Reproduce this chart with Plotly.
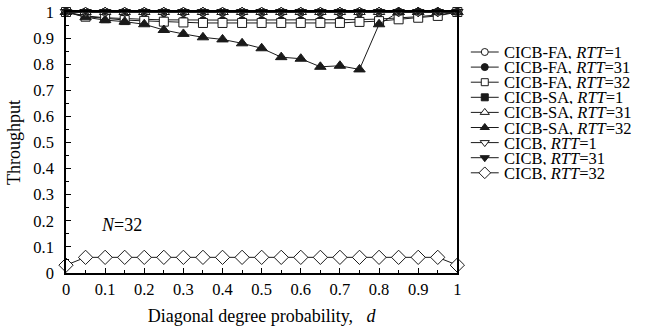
import plotly.graph_objects as go

# Diagonal degree probability d
d = [0.0, 0.05, 0.1, 0.15, 0.2, 0.25, 0.3, 0.35, 0.4, 0.45, 0.5,
     0.55, 0.6, 0.65, 0.7, 0.75, 0.8, 0.85, 0.9, 0.95, 1.0]

fa_rtt1 = [1.0, 1.0, 1.0, 1.0, 1.0, 1.0, 1.0, 1.0, 1.0, 1.0, 1.0,
           1.0, 1.0, 1.0, 1.0, 1.0, 1.0, 1.0, 1.0, 1.0, 1.0]
fa_rtt31 = [1.0, 0.985, 0.978, 0.974, 0.972, 0.970, 0.969, 0.969, 0.969, 0.969, 0.969,
            0.969, 0.969, 0.969, 0.970, 0.971, 0.973, 0.977, 0.982, 0.989, 1.0]
fa_rtt32 = [1.0, 0.982, 0.976, 0.969, 0.966, 0.963, 0.960, 0.958, 0.958, 0.958, 0.958,
            0.958, 0.958, 0.958, 0.958, 0.962, 0.965, 0.972, 0.978, 0.985, 1.0]
sa_rtt1 = [1.0, 1.0, 1.0, 1.0, 1.0, 1.0, 1.0, 1.0, 1.0, 1.0, 1.0,
           1.0, 1.0, 1.0, 1.0, 1.0, 1.0, 1.0, 1.0, 1.0, 1.0]
sa_rtt31 = [1.0, 1.0, 1.0, 1.0, 1.0, 1.0, 1.0, 1.0, 1.0, 1.0, 1.0,
            1.0, 1.0, 1.0, 1.0, 1.0, 1.0, 1.0, 1.0, 1.0, 1.0]
sa_rtt32 = [1.0, 0.980, 0.969, 0.963, 0.953, 0.931, 0.916, 0.903, 0.895, 0.880, 0.861,
            0.827, 0.821, 0.790, 0.794, 0.780, 0.953, 1.0, 1.0, 1.0, 1.0]
cicb_rtt1 = [1.0, 1.0, 1.0, 1.0, 1.0, 1.0, 1.0, 1.0, 1.0, 1.0, 1.0,
             1.0, 1.0, 1.0, 1.0, 1.0, 1.0, 1.0, 1.0, 1.0, 1.0]
cicb_rtt31 = [1.0, 1.0, 1.0, 1.0, 1.0, 1.0, 1.0, 1.0, 1.0, 1.0, 1.0,
              1.0, 1.0, 1.0, 1.0, 1.0, 1.0, 1.0, 1.0, 1.0, 1.0]
cicb_rtt32 = [0.03, 0.06, 0.06, 0.06, 0.06, 0.06, 0.06, 0.06, 0.06, 0.06, 0.06,
              0.06, 0.06, 0.06, 0.06, 0.06, 0.06, 0.06, 0.06, 0.06, 0.03]

schemes = ["CICB-FA", "CICB-FA", "CICB-FA", "CICB-SA", "CICB-SA", "CICB-SA",
           "CICB", "CICB", "CICB"]
rtts = [1, 31, 32, 1, 31, 32, 1, 31, 32]
series = [fa_rtt1, fa_rtt31, fa_rtt32, sa_rtt1, sa_rtt31, sa_rtt32,
          cicb_rtt1, cicb_rtt31, cicb_rtt32]

# marker styling: (symbol, filled, size in plot, size in key)
styles = [("circle", False, 8, 7), ("circle", True, 7, 7), ("square", False, 9, 7),
          ("square", True, 6, 7), ("triangle-up", False, 10, 8), ("triangle-up", True, 10, 8),
          ("triangle-down", False, 10, 8), ("triangle-down", True, 7, 8),
          ("diamond", False, 11, 9)]

FONT = "Liberation Serif"
INK = "#1a1a1a"

W, H = 654, 335
ML, MT, MB = 66, 12, 62
PLOT_W = 394          # width of the data area in px
AREA_W = W - ML       # plotting area including the key column

fig = go.Figure()


def marker_of(style, key=False):
    sym, filled, size, ksize = style
    return dict(symbol=sym, size=ksize if key else size,
                color=INK if filled else "white",
                line=dict(color=INK, width=1))


for ys, st, sc, rt in zip(series, styles, schemes, rtts):
    fig.add_trace(go.Scatter(
        x=d, y=ys, mode="lines+markers",
        line=dict(color=INK, width=1),
        marker=marker_of(st), cliponaxis=False,
        name=f"{sc}, RTT={rt}", showlegend=False,
    ))

# key column drawn on its own pixel-scaled axes to the right of the data area
KEY_X0, KEY_LEN, KEY_ROW0, KEY_STEP = 474, 28, 52, 15.1
for i, (st, sc, rt) in enumerate(zip(styles, schemes, rtts)):
    yk = KEY_ROW0 + i * KEY_STEP
    fig.add_trace(go.Scatter(
        x=[KEY_X0, KEY_X0 + KEY_LEN], y=[yk, yk], mode="lines",
        line=dict(color=INK, width=1), xaxis="x2", yaxis="y2",
        showlegend=False, hoverinfo="skip"))
    fig.add_trace(go.Scatter(
        x=[KEY_X0 + KEY_LEN / 2], y=[yk], mode="markers",
        marker=marker_of(st, key=True), xaxis="x2", yaxis="y2",
        showlegend=False, hoverinfo="skip", cliponaxis=False))
    fig.add_annotation(
        x=KEY_X0 + KEY_LEN + 3, y=yk, xref="x2", yref="y2",
        text=f"{sc}, <i>RTT</i>={rt}", showarrow=False,
        xanchor="left", yanchor="middle", height=14, valign="middle",
        font=dict(family=FONT, size=16.5, color="black"))

fig.add_annotation(
    x=0.085, y=0.185, xref="x", yref="y", text="<i>N</i>=32",
    showarrow=False, xanchor="left", yanchor="middle",
    font=dict(family=FONT, size=18, color="black"))

axis_common = dict(
    showgrid=False, zeroline=False, showline=True, linecolor="black",
    mirror=True, ticks="inside", tickcolor="black", ticklen=5,
    tickfont=dict(family=FONT, size=16.5, color="black"),
)

ticks = [0, 0.1, 0.2, 0.3, 0.4, 0.5, 0.6, 0.7, 0.8, 0.9, 1]
tick_text = ["0", "0.1", "0.2", "0.3", "0.4", "0.5", "0.6", "0.7", "0.8", "0.9", "1"]

fig.update_layout(
    width=W, height=H,
    margin=dict(l=ML, r=0, t=MT, b=MB, pad=0),
    paper_bgcolor="white", plot_bgcolor="white",
    showlegend=False,
    xaxis=dict(
        **axis_common, domain=[0, PLOT_W / AREA_W], range=[0, 1],
        tickvals=ticks, ticktext=tick_text,
        linewidth=2, ticklabelstandoff=0,
        minor=dict(dtick=0.05, tick0=0, ticks="inside", ticklen=3, tickcolor="black"),
        title=dict(text="Diagonal degree probability,&nbsp;&nbsp; <i>d</i>",
                   font=dict(family=FONT, size=18, color="black"), standoff=12),
    ),
    yaxis=dict(
        **axis_common, range=[0, 1],
        tickvals=ticks, ticktext=tick_text,
        linewidth=1.5, ticklabelstandoff=7,
        minor=dict(dtick=0.05, tick0=0, ticks="inside", ticklen=3, tickcolor="black"),
        title=dict(text="Throughput", font=dict(family=FONT, size=18, color="black"),
                   standoff=8),
    ),
    xaxis2=dict(domain=[PLOT_W / AREA_W + 0.001, 1], range=[ML + PLOT_W + 1, W],
                visible=False, anchor="y2"),
    yaxis2=dict(domain=[0, 1], range=[H - MB, MT], visible=False, anchor="x2"),
)

fig.write_html("out.html")
